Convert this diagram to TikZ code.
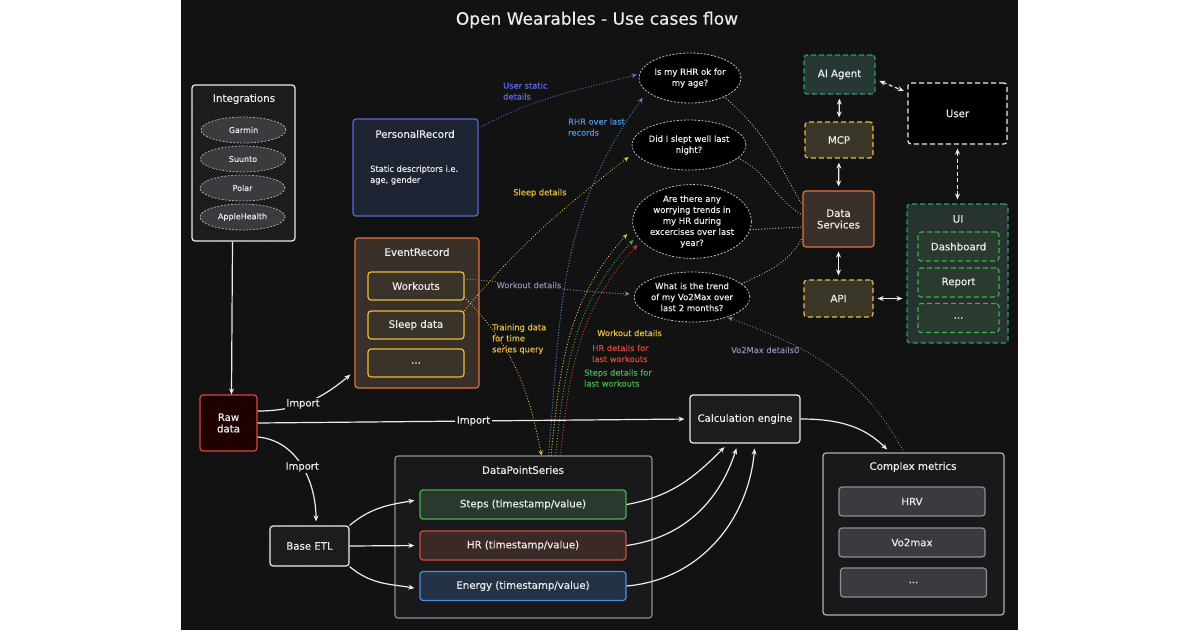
\documentclass[tikz,border=0pt]{standalone}
\usepackage{fontspec}
\setmainfont{DejaVu Sans}[FakeBold=0.35]
\usetikzlibrary{arrows.meta,patterns,shapes.geometric}
\definecolor{bgc}{HTML}{121212}
\definecolor{txt}{HTML}{ECECEC}
\definecolor{qline}{HTML}{BDBDBD}
\definecolor{pblue}{HTML}{5667D8}
\definecolor{pbluefill}{HTML}{1F2435}
\definecolor{orng}{HTML}{E2733A}
\definecolor{evbrown}{HTML}{3A302A}
\definecolor{ylw}{HTML}{E8BE45}
\definecolor{ylwfill}{HTML}{39332A}
\definecolor{rawred}{HTML}{D9473A}
\definecolor{grn}{HTML}{4CAF50}
\definecolor{grnfill}{HTML}{283A2D}
\definecolor{red2}{HTML}{D44A3C}
\definecolor{redfill}{HTML}{3A2926}
\definecolor{blu}{HTML}{4A8FE0}
\definecolor{blufill}{HTML}{243246}
\definecolor{gry}{HTML}{8E8E96}
\definecolor{gryfill}{HTML}{3A3A3F}
\definecolor{dpsfill}{HTML}{19191B}
\definecolor{agteal}{HTML}{2E9C6A}
\definecolor{tealfill}{HTML}{253836}
\definecolor{uifill}{HTML}{263330}
\definecolor{uigrn}{HTML}{3DB14A}
\definecolor{uiitem}{HTML}{2B3A2F}
\definecolor{mcpfill}{HTML}{3A3628}
\definecolor{lav}{HTML}{8A8AAE}
\definecolor{sky}{HTML}{4C93E3}
\definecolor{indi}{HTML}{5A6BE6}
\tikzset{
  cbox/.style={draw, rounded corners=3pt, line width=1.2pt, inner sep=0pt},     % container
  ibox/.style={draw, rounded corners=3pt, line width=1.2pt, inner sep=0pt,
    text=txt, font=\fontsize{10.2}{11.5}\selectfont, align=center},             % item box
  dbox/.style={ibox, dash pattern=on 5pt off 3pt},                              % dashed box
  hatch/.style={pattern=north east lines, pattern color=#1},
  ttl/.style={text=txt, font=\fontsize{10.3}{12}\selectfont},
  qell/.style={ellipse, draw=qline, dash pattern=on 2pt off 1.5pt, fill=black, line width=0.8pt,
    minimum width=102pt, minimum height=50pt, inner sep=0pt, text=txt, align=center,
    font=\fontsize{8.5}{11}\selectfont},                                        % question
  src/.style={ellipse, draw=gray!70, dash pattern=on 2pt off 1.5pt, fill=gryfill, line width=0.8pt,
    minimum width=85pt, minimum height=26pt, inner sep=0pt, text=txt, font=\fontsize{8}{10}\selectfont},
  flow/.style={-{Stealth[length=6pt,width=5pt]}, draw=txt, line width=1.2pt},
  twoway/.style={{Stealth[length=6pt,width=5pt]}-{Stealth[length=6pt,width=5pt]}, draw=txt,
    line width=1.2pt, shorten >=4pt, shorten <=4pt},
  dots/.style={-{Stealth[length=5pt,width=4.5pt]}, line width=1.1pt, line cap=round, dash pattern=on 0.2pt off 2.6pt},
  link/.style={draw=qline, line width=1.1pt, line cap=round, dash pattern=on 0.2pt off 2.6pt},
  tag/.style={font=\fontsize{8.3}{11}\selectfont, align=left, anchor=west, inner sep=1pt},
  lbl/.style={text=txt, fill=bgc, inner sep=1.5pt, font=\fontsize{10}{11}\selectfont},
}

\begin{document}
\begin{tikzpicture}[x=1pt,y=1pt]
  \fill[white] (0,0) rectangle (1200,-630);
  \fill[bgc] (181,0) rectangle (1018,-630);
  \path[use as bounding box] (0,0) rectangle (1200,-630);
  \node[text=txt, font=\fontsize{17}{19}\selectfont] (title) at (597,-20) {Open Wearables - Use cases flow};

  % sources
  \node[cbox, draw=txt, hatch=white!20!black, minimum width=103pt, minimum height=156pt] (integ) at (243.5,-163) {};
  \node[ttl] (integt) at (244,-99) {Integrations};
  \node[src] (garmin) at (243.5,-130) {Garmin};
  \node[src] (suunto) at (243,-159) {Suunto};
  \node[src] (polar) at (242.5,-188) {Polar};
  \node[src] (apple) at (242.5,-217) {AppleHealth};
  \node[ibox, draw=rawred, preaction={fill=red!6!black}, hatch=red!25!black,
    minimum width=57pt, minimum height=56pt] (raw) at (228.5,-423) {Raw\\data};

  % records
  \node[cbox, draw=pblue, fill=pbluefill, minimum width=125pt, minimum height=97pt] (prec) at (415.5,-167.5) {};
  \node[ttl] (prect) at (415,-134) {PersonalRecord};
  \node[tag, text=txt] (precd) at (369,-175) {Static descriptors i.e.\\age, gender};
  \node[cbox, draw=orng, fill=evbrown, minimum width=124pt, minimum height=150pt] (erec) at (417,-313) {};
  \node[ttl] (erect) at (417,-252) {EventRecord};
  \node[ibox, draw=ylw, fill=ylwfill, minimum width=96pt, minimum height=28pt] (wk) at (416,-286) {Workouts};
  \node[ibox, draw=ylw, fill=ylwfill, minimum width=96pt, minimum height=28pt] (sl) at (416,-325) {Sleep data};
  \node[ibox, draw=ylw, fill=ylwfill, minimum width=96pt, minimum height=28pt] (emore) at (416,-363) {...};

  % series and metrics
  \node[ibox, draw=txt, hatch=white!20!black, minimum width=79pt, minimum height=40pt] (etl) at (309.5,-546) {Base ETL};
  \node[cbox, draw=gry, fill=dpsfill, minimum width=257pt, minimum height=162pt] (dps) at (523.5,-537) {};
  \node[ttl] (dpst) at (523,-470) {DataPointSeries};
  \node[ibox, draw=grn, fill=grnfill, minimum width=206pt, minimum height=29pt] (steps) at (523,-504.5) {Steps (timestamp/value)};
  \node[ibox, draw=red2, fill=redfill, minimum width=206pt, minimum height=29pt] (hr) at (523,-545.5) {HR (timestamp/value)};
  \node[ibox, draw=blu, fill=blufill, minimum width=206pt, minimum height=29pt] (energy) at (523,-586) {Energy (timestamp/value)};
  \node[ibox, draw=txt, hatch=white!20!black, minimum width=110pt, minimum height=48pt] (calc) at (745,-419) {Calculation engine};
  \node[cbox, draw=gry!70!white, fill=dpsfill, minimum width=181pt, minimum height=162pt] (cmx) at (913.5,-534) {};
  \node[ttl] (cmxt) at (913,-467) {Complex metrics};
  \node[ibox, draw=gry, fill=gryfill, minimum width=146pt, minimum height=29pt] (hrv) at (912,-501.5) {HRV};
  \node[ibox, draw=gry, fill=gryfill, minimum width=146pt, minimum height=29pt] (vo2) at (912,-542.5) {Vo2max};
  \node[ibox, draw=gry, fill=gryfill, minimum width=146pt, minimum height=29pt] (cmore) at (913.5,-582.5) {...};

  % questions
  \node[qell] (q1) at (690,-78) {Is my RHR ok for\\my age?};
  \node[qell] (q2) at (689,-145) {Did I slept well last\\night?};
  \node[qell, minimum height=68pt] (q3) at (692,-221.5) {Are there any\\worrying trends in\\my HR during\\excercises over last\\year?};
  \node[qell] (q4) at (692,-297) {What is the trend\\of my Vo2Max over\\last 2 months?};

  % services
  \node[ibox, draw=orng, fill=evbrown, minimum width=71pt, minimum height=56pt] (ds) at (838.5,-219) {Data\\Services};
  \node[dbox, draw=agteal, fill=tealfill, minimum width=71pt, minimum height=39pt] (agent) at (839.5,-74.5) {AI Agent};
  \node[dbox, draw=ylw, fill=mcpfill, minimum width=68pt, minimum height=36pt] (mcp) at (839,-140) {MCP};
  \node[dbox, draw=ylw, fill=mcpfill, minimum width=69pt, minimum height=37pt] (api) at (838.5,-298.5) {API};
  \node[dbox, draw=txt, fill=black, minimum width=99pt, minimum height=61pt] (user) at (957.5,-113.5) {User};
  \node[cbox, draw=agteal, fill=uifill, dash pattern=on 5pt off 3pt, minimum width=101pt, minimum height=139pt] (ui) at (957.5,-273.5) {};
  \node[ttl] (uit) at (958,-219) {UI};
  \node[dbox, draw=uigrn, fill=uiitem, minimum width=81pt, minimum height=29pt] (dashb) at (958.5,-246.5) {Dashboard};
  \node[dbox, draw=uigrn, fill=uiitem, minimum width=81pt, minimum height=29pt] (rep) at (958.5,-282.5) {Report};
  \node[dbox, draw=uigrn, fill=uiitem, minimum width=81pt, minimum height=29pt] (uimore) at (958.5,-318) {...};

  % imports
  \draw[flow] ([xshift=-11pt]integ.south) -- ([xshift=3pt]raw.north);
  \draw[flow] ([yshift=12pt]raw.east) to[out=0,in=220] node[lbl, pos=0.45] (imp1) {Import} ([shift={(-4pt,14pt)}]erec.south west);
  \draw[flow, shorten >=5pt] (raw.east) -- node[lbl] (imp2) {Import} (calc.west);
  \draw[flow, shorten >=4pt] ([yshift=-14pt]raw.east) to[out=-5,in=90] node[lbl] (imp3) {Import} ([xshift=6.5pt]etl.north);
  \draw[flow, shorten >=5pt] (etl.north east) to[out=40,in=190] ([yshift=5pt]steps.west);
  \draw[flow, shorten >=5pt] (etl.east) -- (hr.west);
  \draw[flow, shorten >=5pt] (etl.south east) to[out=-40,in=170] ([yshift=-3pt]energy.west);
  \draw[flow, shorten >=5pt] (steps.east) to[out=10,in=225] ([xshift=-17pt]calc.south);
  \draw[flow, shorten >=5pt] (hr.east) to[out=8,in=252] ([xshift=-7pt]calc.south);
  \draw[flow, shorten >=5pt] (energy.east) to[out=5,in=265] ([xshift=10pt]calc.south);
  \draw[flow, shorten >=4pt] (calc.east) to[out=0,in=135] ([xshift=-23.5pt]cmx.north);

  % details to questions
  \draw[dots, indi, shorten >=2pt] (prec.32) to[out=28,in=195] ([yshift=4pt]q1.west);
  \draw[dots, sky] ([xshift=25pt]dps.north) to[out=85,in=234] ([shift={(4pt,-20pt)}]q1.west);
  \draw[dots, ylw] (sl.north east) to[out=50,in=218] ([shift={(-3pt,-12pt)}]q2.west);
  \draw[dots, ylw] ([yshift=3pt]wk.south east) to[out=-45,in=101] ([xshift=18pt]dps.north);
  \draw[dots, lav, shorten >=4pt] ([yshift=7pt]wk.east) to[out=-4,in=178]
    node[pos=0.37, fill=bgc, inner sep=1pt, text=lav, font=\fontsize{8.3}{10}\selectfont] (twk) {Workout details} ([yshift=3pt]q4.west);
  \draw[dots, ylw] ([xshift=27.5pt]dps.north) to[out=84,in=228] ([shift={(-5pt,-12.5pt)}]q3.west);
  \draw[dots, grn] ([xshift=32pt]dps.north) to[out=84,in=228] ([shift={(1pt,-18.5pt)}]q3.west);
  \draw[dots, red2] ([xshift=37pt]dps.north) to[out=84,in=228] ([shift={(5pt,-23.5pt)}]q3.west);
  \draw[dots, lav, shorten >=1pt] ([xshift=-9.5pt]cmx.north) to[out=118,in=-20] (q4.-30);

  % questions to data services
  \draw[link] (q1.-29) to[out=-40,in=120] ([yshift=14pt]ds.west);
  \draw[link] (q2.-15) to[out=-25,in=150] ([yshift=4pt]ds.west);
  \draw[link] (q3.-8) -- ([yshift=-8pt]ds.west);
  \draw[link] (q4.15) to[out=25,in=240] ([yshift=-19pt]ds.west);

  % service links
  \draw[twoway] (agent.south) -- (mcp.north);
  \draw[twoway] (mcp.south) -- (ds.north);
  \draw[twoway] (ds.south) -- (api.north);
  \draw[twoway] (api.east) -- (api.east -| ui.west);
  \draw[twoway, dash pattern=on 4pt off 2.5pt] ([yshift=-5pt]agent.east) -- ([yshift=-10pt]user.north west);
  \draw[twoway, dash pattern=on 4pt off 2.5pt] (user.south) -- (ui.north);

  % detail tags
  \node[tag, text=indi] (tus) at (502,-91) {User static\\details};
  \node[tag, text=sky] (trhr) at (567,-127) {RHR over last\\records};
  \node[tag, text=ylw] (tsl) at (512,-193) {Sleep details};
  \node[tag, text=ylw] (ttrain) at (491,-339) {Training data\\for time\\series query};
  \node[tag, text=ylw] (twk2) at (596,-333) {Workout details};
  \node[tag, text=red2] (thr) at (591,-353.5) {HR details for\\last workouts};
  \node[tag, text=grn] (tst) at (583,-378) {Steps details for\\last workouts};
  \node[tag, text=lav] (tvo) at (730,-350) {Vo2Max details0};
\end{tikzpicture}
\end{document}
